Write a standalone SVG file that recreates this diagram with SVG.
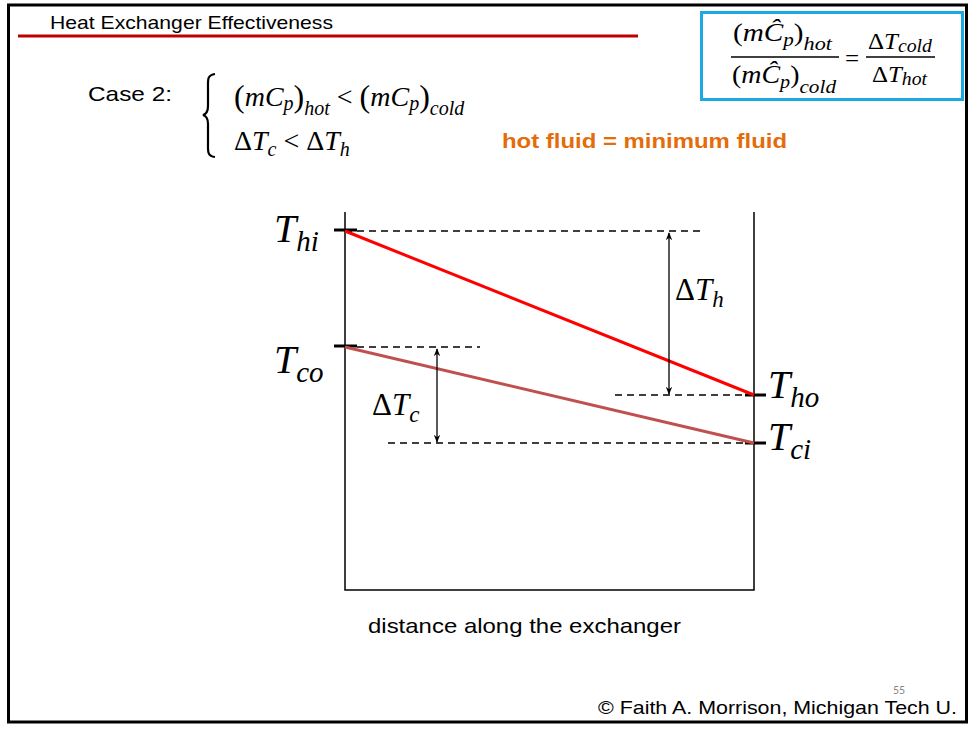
<svg xmlns="http://www.w3.org/2000/svg" width="969" height="729" viewBox="0 0 969 729">
<defs>
<style>
.sans{font-family:"Liberation Sans",Arial,sans-serif;fill:#000}
.m{font-family:"Liberation Serif","Times New Roman",serif;font-style:italic;fill:#000}
.up{font-style:normal}
.dash{stroke:#000;stroke-width:1.5;stroke-dasharray:7,5;fill:none}
.tick{stroke:#000;stroke-width:3}
.axis{stroke:#000;stroke-width:1.5;fill:none}
.arr{stroke:#000;stroke-width:1.3;marker-start:url(#ah);marker-end:url(#ah)}
</style>
<marker id="ah" viewBox="0 0 10 10" refX="9" refY="5" markerWidth="8" markerHeight="8" markerUnits="userSpaceOnUse" orient="auto-start-reverse">
<path d="M0,1 L10,5 L0,9 L3,5 Z" fill="#000"/>
</marker>
</defs>
<rect width="969" height="729" fill="#fff"/>
<rect x="8.5" y="5" width="958" height="717" fill="none" stroke="#000" stroke-width="3"/>
<g id="title">
<text class="sans" x="50" y="29" font-size="19" textLength="283" lengthAdjust="spacingAndGlyphs">Heat Exchanger Effectiveness</text>
<line x1="18" y1="36" x2="638" y2="36" stroke="#c00000" stroke-width="3"/>
</g>
<g id="formula-box">
<rect x="701.5" y="12.5" width="261" height="87" fill="#fff" stroke="#1fa9e1" stroke-width="3"/>
<text class="m" x="733" y="41" font-size="25" textLength="99" lengthAdjust="spacingAndGlyphs"><tspan class="up">(</tspan>mĈ<tspan font-size="18" dy="5">p</tspan><tspan class="up" dy="-5">)</tspan><tspan font-size="19" dy="9">hot</tspan></text>
<line x1="731" y1="57" x2="839" y2="57" stroke="#000" stroke-width="1.5"/>
<text class="m" x="732" y="83" font-size="25" textLength="104" lengthAdjust="spacingAndGlyphs"><tspan class="up">(</tspan>mĈ<tspan font-size="18" dy="5">p</tspan><tspan class="up" dy="-5">)</tspan><tspan font-size="19" dy="10">cold</tspan></text>
<text class="m up" x="845" y="67" font-size="25">=</text>
<text class="m" x="868" y="49" font-size="24" textLength="64" lengthAdjust="spacingAndGlyphs"><tspan class="up">Δ</tspan>T<tspan font-size="19" dy="3">cold</tspan></text>
<line x1="866" y1="57" x2="935" y2="57" stroke="#000" stroke-width="1.5"/>
<text class="m" x="872" y="82" font-size="24" textLength="55" lengthAdjust="spacingAndGlyphs"><tspan class="up">Δ</tspan>T<tspan font-size="19" dy="3">hot</tspan></text>
</g>
<g id="case">
<text class="sans" x="88" y="101" font-size="21" textLength="84" lengthAdjust="spacingAndGlyphs">Case 2:</text>
<path d="M215,74 C207,75 208,80 208,88 L208,106 C208,111 207,114 203,115 C207,116 208,119 208,124 L208,143 C208,151 207,156 215,157" fill="none" stroke="#000" stroke-width="2.2"/>
<text class="m" x="234" y="106" font-size="28"><tspan class="up" font-size="32" dy="1">(</tspan><tspan dy="-1">mC</tspan><tspan font-size="20" dy="4">p</tspan><tspan class="up" font-size="32" dy="-3">)</tspan><tspan font-size="20" dy="8">hot</tspan><tspan class="up" dy="-9"> &lt; </tspan><tspan class="up" font-size="32" dy="1">(</tspan><tspan dy="-1">mC</tspan><tspan font-size="20" dy="4">p</tspan><tspan class="up" font-size="32" dy="-3">)</tspan><tspan font-size="20" dy="8">cold</tspan></text>
<text class="m" x="234" y="150" font-size="28"><tspan class="up">Δ</tspan>T<tspan font-size="20" dy="6">c</tspan><tspan class="up" dy="-6"> &lt; Δ</tspan>T<tspan font-size="20" dy="6">h</tspan></text>
<text x="502" y="148" font-family="Liberation Sans,Arial,sans-serif" font-weight="bold" font-size="21" fill="#e46c0a" textLength="285" lengthAdjust="spacingAndGlyphs">hot fluid = minimum fluid</text>
</g>
<g id="plot">
<path class="axis" d="M345,212 V590 H754 V212"/>
<line class="dash" x1="345" y1="231" x2="703" y2="231"/>
<line class="dash" x1="345" y1="347" x2="480" y2="347"/>
<line class="dash" x1="615" y1="395" x2="754" y2="395"/>
<line class="dash" x1="388" y1="443" x2="754" y2="443"/>
<line class="tick" x1="334" y1="230" x2="357" y2="230"/>
<line class="tick" x1="334" y1="346" x2="357" y2="346"/>
<line class="tick" x1="745" y1="395" x2="766" y2="395"/>
<line class="tick" x1="745" y1="443" x2="766" y2="443"/>
</g>
<g id="hot-line"><line x1="345" y1="231" x2="754" y2="395" stroke="#ff0000" stroke-width="3"/></g>
<g id="cold-line"><line x1="345" y1="347" x2="754" y2="443" stroke="#c0504d" stroke-width="3"/></g>
<g id="connectors">
<line class="arr" x1="669" y1="233" x2="669" y2="394"/>
<line class="arr" x1="437" y1="349" x2="437" y2="442"/>
</g>
<g id="labels">
<text class="m" x="274" y="242" font-size="40">T<tspan font-size="29" dy="9">hi</tspan></text>
<text class="m" x="274" y="373" font-size="40">T<tspan font-size="29" dy="9">co</tspan></text>
<text class="m" x="768" y="398" font-size="40">T<tspan font-size="29" dy="9">ho</tspan></text>
<text class="m" x="768" y="450" font-size="40">T<tspan font-size="29" dy="9">ci</tspan></text>
<text class="m" x="675" y="300" font-size="31"><tspan class="up">Δ</tspan>T<tspan font-size="23" dy="7">h</tspan></text>
<text class="m" x="372" y="415" font-size="31"><tspan class="up">Δ</tspan>T<tspan font-size="23" dy="7">c</tspan></text>
<text class="sans" x="368" y="633" font-size="21" textLength="313" lengthAdjust="spacingAndGlyphs">distance along the exchanger</text>
</g>
<g id="footer">
<text x="893" y="694" font-family="Carlito,'Liberation Sans',sans-serif" font-size="12" fill="#888">55</text>
<text class="sans" x="598" y="714" font-size="19" textLength="359" lengthAdjust="spacingAndGlyphs">© Faith A. Morrison, Michigan Tech U.</text>
</g>
</svg>
